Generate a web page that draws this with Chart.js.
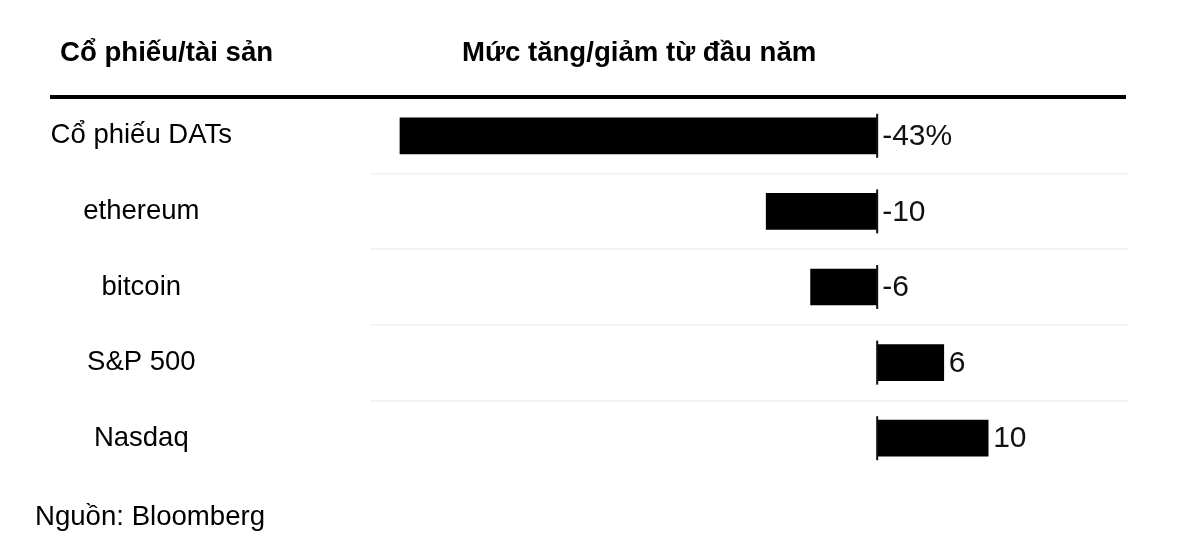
<!DOCTYPE html>
<html>
<head>
<meta charset="utf-8">
<script src="https://cdn.jsdelivr.net/npm/chart.js@4"></script>
<style>
  html, body { margin: 0; padding: 0; background: #fff; }
  #wrap { width: 1192px; height: 538px; }
</style>
</head>
<body>
<div id="wrap"><canvas id="grafico"></canvas></div>
<script>
const categorias = ["Cổ phiếu DATs", "ethereum", "bitcoin", "S&P 500", "Nasdaq"];
const valores = [-43, -10, -6, 6, 10];
const rotulosValores = ["-43%", "-10", "-6", "6", "10"];
const cabecalhoEsquerda = "Cổ phiếu/tài sản";
const cabecalhoDireita = "Mức tăng/giảm từ đầu năm";
const fonte = "Nguồn: Bloomberg";

const familia = '"Liberation Sans", Arial, Helvetica, sans-serif';

// cabeçalhos, linha grossa, marcas do zero, rótulos e fonte
const extras = {
    id: "extras",
    afterDatasetsDraw(chart) {
        const ctx = chart.ctx;
        const x = chart.scales.x;
        const y = chart.scales.y;
        const zero = x.getPixelForValue(0);

        ctx.save();
        ctx.fillStyle = "#000";
        ctx.textBaseline = "middle";
        ctx.font = "bold 27.6px " + familia;
        ctx.textAlign = "left";
        ctx.fillText(cabecalhoEsquerda, 60, 53);
        ctx.fillText(cabecalhoDireita, 462, 53);

        ctx.fillRect(50, 95, 1076, 4);

        ctx.strokeStyle = "#111";
        ctx.lineWidth = 2;
        valores.forEach((v, i) => {
            const cy = y.getPixelForValue(i);
            ctx.beginPath();
            ctx.moveTo(zero, cy - 22);
            ctx.lineTo(zero, cy + 22);
            ctx.stroke();

            const fim = x.getPixelForValue(v);
            const tx = v < 0 ? zero + 5 : fim + 5;
            ctx.font = "30px " + familia;
            ctx.fillStyle = "#111";
            ctx.fillText(rotulosValores[i], tx, cy + 1);
        });

        ctx.font = "27.6px " + familia;
        ctx.fillStyle = "#000";
        ctx.fillText(fonte, 35, 517);
        ctx.restore();
    }
};

new Chart(document.querySelector("#grafico"), {
    type: "bar",
    data: {
        labels: categorias,
        datasets: [{
            data: valores,
            backgroundColor: "#000",
            borderWidth: 0,
            barThickness: 36
        }]
    },
    options: {
        indexAxis: "y",
        responsive: true,
        maintainAspectRatio: false,
        animation: false,
        layout: { padding: { top: 98, bottom: 62, right: 64, left: 0 } },
        plugins: {
            legend: { display: false },
            tooltip: { enabled: false }
        },
        scales: {
            x: {
                display: false,
                min: -45.7,
                max: 22.6
            },
            y: {
                afterFit: (escala) => {
                    escala.width = 370;
                    escala.paddingTop = 0;
                    escala.paddingBottom = 0;
                },
                border: { display: false },
                grid: {
                    drawTicks: false,
                    lineWidth: 1.5,
                    color: (c) => (c.type !== "tick" || c.index === 0) ? "rgba(0,0,0,0)" : "#f1f1f1"
                },
                ticks: {
                    crossAlign: "center",
                    padding: 138,
                    color: "#000",
                    font: { family: familia, size: 27.5 }
                }
            }
        }
    },
    plugins: [extras]
});
</script>
</body>
</html>
